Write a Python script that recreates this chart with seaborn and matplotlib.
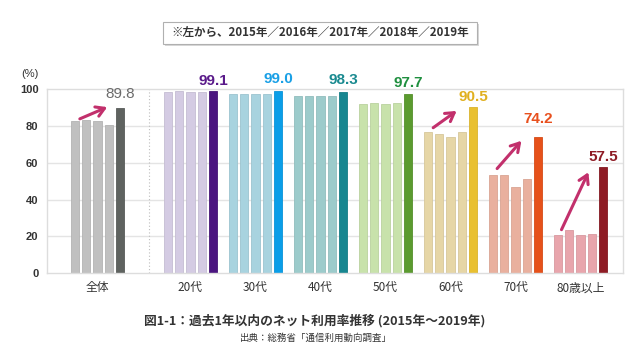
"""
過去1年以内のネット利用率推移 (2015年〜2019年)
"""
import matplotlib
matplotlib.use("Agg")
import matplotlib.pyplot as plt
from matplotlib.patches import FancyBboxPatch
import numpy as np
import pandas as pd
import seaborn as sns

sns.set_theme(style="white")
plt.rcParams["font.family"] = ["Noto Sans CJK JP", "DejaVu Sans"]
NUM_FONT = ["Liberation Sans", "DejaVu Sans"]

# ── data ────────────────────────────────────────────────────────────────────
groups = ["全体", "20代", "30代", "40代", "50代", "60代", "70代", "80歳以上"]
years = ["2015", "2016", "2017", "2018", "2019"]
values = [
    [82.8, 83.3, 82.8, 80.3, 89.8],
    [98.4, 98.9, 98.4, 98.4, 99.1],
    [97.6, 97.6, 97.6, 97.6, 99.0],
    [96.6, 96.6, 96.6, 96.6, 98.3],
    [91.8, 92.6, 92.2, 92.6, 97.7],
    [76.6, 75.5, 73.9, 76.6, 90.5],
    [53.4, 53.4, 46.9, 50.9, 74.2],
    [20.5, 23.4, 20.5, 21.4, 57.5],
]
label_text = ["89.8", "99.1", "99.0", "98.3", "97.7", "90.5", "74.2", "57.5"]
arrow_groups = ["全体", "60代", "70代", "80歳以上"]

# ── styling ─────────────────────────────────────────────────────────────────
xpos = [0, 1.43, 2.43, 3.43, 4.43, 5.43, 6.43, 7.43]
light = ["#c0c0c0", "#d4cbe3", "#a8d3df", "#9ccbcb",
         "#c8e2ab", "#e6d6a6", "#e9b09e", "#e8a5ac"]
dark = ["#5f6360", "#4b1580", "#0a9ee8", "#178690",
        "#5b9b2f", "#e9c030", "#e6511a", "#8e1b24"]
label_col = ["#6b6b6b", "#5a1a8a", "#1aa0e6", "#1a8a90",
             "#1f8f3f", "#e0b020", "#e8501e", "#8e1b24"]
label_off = [7.7, 5.6, 6.4, 6.7, 5.9, 5.1, 9.6, 5.8]
arrow_col = "#c2306c"

df = pd.DataFrame([
    {"group": g, "x": x, "year": y, "value": v}
    for g, x, row in zip(groups, xpos, values)
    for y, v in zip(years, row)
])

fig = plt.figure(figsize=(6.4, 3.6), dpi=100)
ax = fig.add_axes([0.073, 0.2417, 0.9, 0.5103])

for y in [20, 40, 60, 80]:
    ax.axhline(y, color="#e4e4e4", linewidth=1.0, zorder=0)
ax.axvline(0.8, color="#bdbdbd", linewidth=0.8, linestyle=(0, (1, 2)), zorder=0)

pitch = 0.174
for i, g in enumerate(groups):
    sub = df[df["group"] == g]
    pal = [light[i]] * 4 + [dark[i]]
    sns.barplot(data=sub, x="x", y="value", hue="year", palette=pal,
                native_scale=True, width=0.87, gap=0.26, legend=False,
                saturation=1, edgecolor="none", ax=ax, zorder=2)
    ax.text(xpos[i] + 2 * pitch, values[i][-1] + label_off[i], label_text[i],
            color=label_col[i], fontsize=11, family=NUM_FONT,
            fontweight="normal" if i == 0 else "bold",
            ha="center", va="center", clip_on=False)

# thin outlines like the original
for p in ax.patches:
    fc = p.get_facecolor()
    p.set_edgecolor(tuple(c * 0.93 for c in fc[:3]))
    p.set_linewidth(0.6)

# arrows (start x, start y, end x, end y per arrow group)
arrow_xy = {
    "全体": (-0.31, 83.3, 0.19, 90.9),
    "60代": (5.13, 78.2, 5.56, 89.1),
    "70代": (6.12, 55.7, 6.55, 73.1),
    "80歳以上": (7.12, 22.2, 7.57, 56.2),
}
for g in arrow_groups:
    x0, y0, x1, y1 = arrow_xy[g]
    ax.annotate("", xy=(x1, y1), xytext=(x0, y0),
                arrowprops=dict(arrowstyle="->,head_length=0.5,head_width=0.3",
                                color=arrow_col, lw=2.2),
                annotation_clip=False, zorder=5)

ax.set_xlim(-0.78, 8.08)
ax.set_ylim(0, 100)
ax.set_xticks(xpos)
ax.set_xticklabels(groups, fontsize=8.5, color="#333333")
ax.set_yticks([0, 20, 40, 60, 80, 100])
ax.set_yticklabels(["0", "20", "40", "60", "80", "100"],
                   fontsize=8, color="#333333", fontweight="bold", family=NUM_FONT)
ax.tick_params(axis="both", length=0, pad=6)
ax.set_xlabel("")
ax.set_ylabel("")
for s in ax.spines.values():
    s.set_color("#dddddd")
    s.set_linewidth(1.0)

fig.text(0.047, 0.795, "(%)", fontsize=8, color="#333333", ha="center",
         va="center", family=NUM_FONT)

# year legend box
box = FancyBboxPatch((0.255, 0.878), 0.49, 0.062, boxstyle="square,pad=0",
                     transform=fig.transFigure, facecolor="white",
                     edgecolor="#b0b0b0", linewidth=0.8)
shadow = FancyBboxPatch((0.258, 0.872), 0.49, 0.062, boxstyle="square,pad=0",
                        transform=fig.transFigure, facecolor="#d8d8d8",
                        edgecolor="none")
fig.patches.extend([shadow, box])
fig.text(0.5, 0.908, "※左から、2015年／2016年／2017年／2018年／2019年",
         fontsize=8.3, fontweight="bold", color="#333333", ha="center", va="center")

fig.text(0.491, 0.108, "図1-1：過去1年以内のネット利用率推移 (2015年～2019年)",
         fontsize=9.2, fontweight="bold", color="#333333", ha="center", va="center")
fig.text(0.494, 0.06, "出典：総務省「通信利用動向調査」",
         fontsize=6.8, color="#333333", ha="center", va="center")

fig.savefig("out.png", dpi=100)
plt.close(fig)
